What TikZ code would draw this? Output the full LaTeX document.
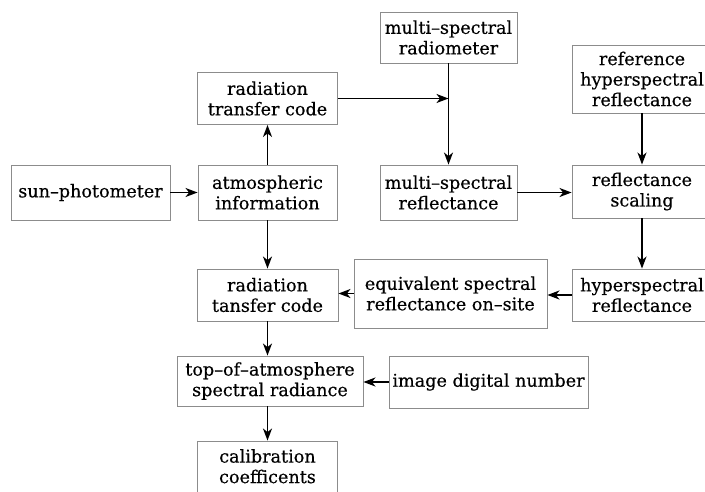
\documentclass[tikz,border=0pt]{standalone}
\usepackage{fontspec}
\setmainfont{DejaVu Serif}[FakeBold=0.4]
\usetikzlibrary{arrows.meta}
\tikzset{
  box/.style={draw=black!45, line width=0.9pt, inner sep=0pt, align=center,
    font=\fontsize{17.6}{20.5}\selectfont},
  arr/.style={line width=1.6pt, -{Stealth[length=12pt,width=9pt,inset=3.5pt]}}
}
\begin{document}
\begin{tikzpicture}[x=1pt,y=-1pt]
\useasboundingbox (0,0) rectangle (705,491);
% boxes (centre, width, height)
\node[box, minimum width=137pt, minimum height=51pt] (radiom) at (448.5,37.5) {multi–spectral\\radiometer};
\node[box, minimum width=140pt, minimum height=68pt] (refhyp) at (642,79) {reference\\hyperspectral\\reflectance};
\node[box, minimum width=140pt, minimum height=52pt] (rad1) at (267.5,98.5) {radiation\\transfer code};
\node[box, minimum width=159pt, minimum height=55pt] (sun) at (90.5,192.5) {sun–photometer};
\node[box, minimum width=139pt, minimum height=55pt] (atm) at (267.5,192.5) {atmospheric\\information};
\node[box, minimum width=137pt, minimum height=55pt] (msr) at (448.5,192.5) {multi–spectral\\reflectance};
\node[box, minimum width=140pt, minimum height=53pt] (rscale) at (642,191.5) {reflectance\\scaling};
\node[box, minimum width=141pt, minimum height=52pt] (rad2) at (267.5,295) {radiation\\tansfer code};
\node[box, minimum width=193pt, minimum height=69pt] (equiv) at (450.5,293.5) {equivalent spectral\\reflectance on–site};
\node[box, minimum width=140pt, minimum height=52pt] (hyper) at (642,295) {hyperspectral\\reflectance};
\node[box, minimum width=186pt, minimum height=50pt] (toa) at (270,381) {top–of–atmosphere\\spectral radiance};
\node[box, minimum width=199pt, minimum height=52pt] (idn) at (488.5,382) {image digital number};
\node[box, minimum width=140pt, minimum height=60pt] (calib) at (267.5,471) {};
\node[font=\fontsize{17.6}{20.5}\selectfont, align=center, anchor=north, inner sep=0pt] (calibtxt) at (267.5,449) {calibration\\coefficents};
% connectors
\coordinate (join) at (radiom.south |- rad1.east);
\draw[arr] (sun.east) -- (sun.east -| atm.west);
\draw[arr] (atm.north) -- (atm.north |- rad1.south);
\draw[arr] (rad1.east) -- (join);
\draw[arr] (radiom.south) -- (msr.north);
\draw[arr] (msr.east) -- (msr.east -| rscale.west);
\draw[arr] (refhyp.south) -- (rscale.north);
\draw[arr] (rscale.south) -- (hyper.north);
\draw[arr] (hyper.west) -- (hyper.west -| equiv.east);
\draw[arr] (equiv.west) -- (equiv.west -| rad2.east);
\draw[arr] (atm.south) -- (atm.south |- rad2.north);
\draw[arr] (rad2.south) -- (rad2.south |- toa.north);
\draw[arr] (idn.west) -- (idn.west -| toa.east);
\draw[arr] (calib.north |- toa.south) -- (calib.north);
\end{tikzpicture}
\end{document}
